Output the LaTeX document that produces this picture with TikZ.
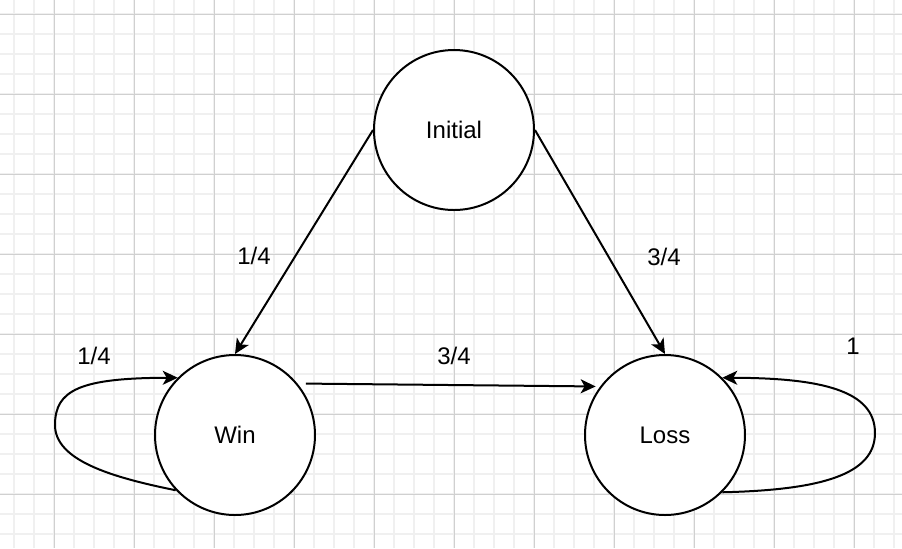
\documentclass[tikz,border=0pt]{standalone}
\usepackage{fontspec}
\setmainfont{Liberation Sans}
\usetikzlibrary{arrows.meta,calc}
\definecolor{gridminor}{RGB}{240,240,240}
\definecolor{gridmajor}{RGB}{208,208,208}
\begin{document}
\begin{tikzpicture}[x=0.5pt,y=-0.5pt,
  minorline/.style={draw=gridminor,line width=0.75pt},
  majorline/.style={draw=gridmajor,line width=0.5pt},
  state/.style={circle,draw=black,line width=1pt,fill=white,minimum size=80pt,inner sep=0pt,
    font=\fontsize{12pt}{14pt}\selectfont},
  edge/.style={draw=black,line width=1pt,-{Stealth[length=7.5pt,width=7pt,inset=2pt]}},
  lbl/.style={font=\fontsize{12pt}{14pt}\selectfont,inner sep=0pt}]
\useasboundingbox[fill=white] (0,0) rectangle (902,548);
% grid
\foreach \x in {14,34,...,894} {\draw[minorline] (\x,0) -- (\x,548);}
\foreach \y in {14,34,...,544} {\draw[minorline] (0,\y) -- (902,\y);}
\foreach \x in {54,134,...,894} {\draw[majorline] (\x,0) -- (\x,548);}
\foreach \y in {14,94,...,544} {\draw[majorline] (0,\y) -- (902,\y);}
% states
\node[state] (I) at (454,130) {Initial};
\node[state] (W) at (235,435) {Win};
\node[state] (L) at (665,435) {Loss};
% edges
\draw[edge] (I.west) -- (W.north);
\draw[edge] (I.east) -- (L.north);
\draw[edge] ($(W.center)!1.08!(W.36)$) -- ($(L.center)!1.045!(L.145)$);
\draw[edge] (W.223) .. controls (110,477) and (55,460) .. (55,425)
  .. controls (55,390) and (80,378) .. (W.135);
\draw[edge] (L.315) .. controls (820,490) and (875,475) .. (875,433)
  .. controls (875,390) and (820,378) .. (L.45);
% labels
\node[lbl] (l1) at (254,256) {1/4};
\node[lbl] (l2) at (664,257) {3/4};
\node[lbl] (l3) at (94,356) {1/4};
\node[lbl] (l4) at (454,356) {3/4};
\node[lbl] (l5) at (853,346) {1};
\end{tikzpicture}
\end{document}
